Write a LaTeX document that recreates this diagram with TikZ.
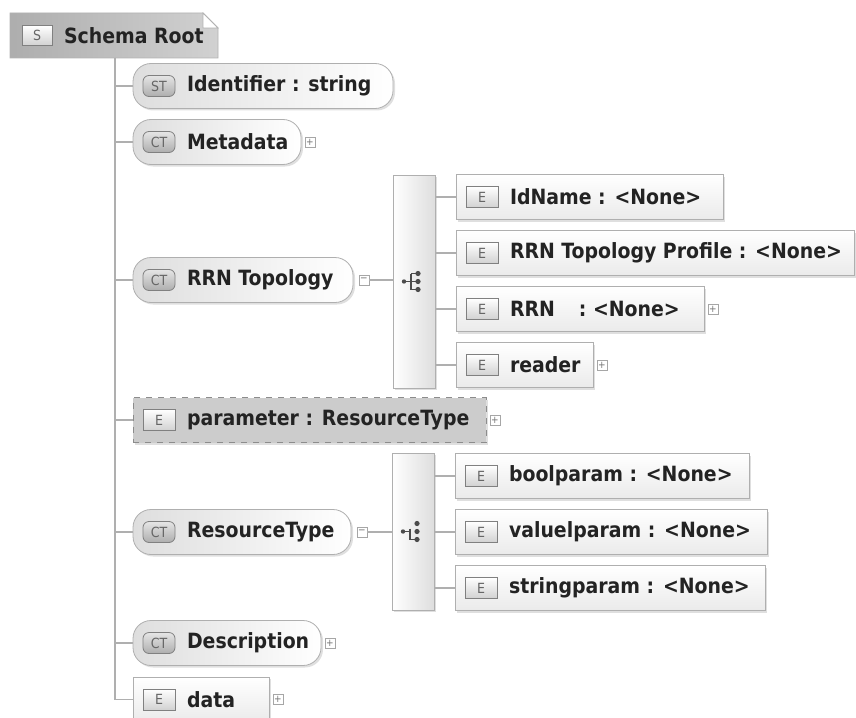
\documentclass[tikz,border=0pt]{standalone}
\usepackage{fontspec}
\setmainfont{DejaVu Sans Condensed}
\definecolor{edgegray}{RGB}{175,175,175}
\definecolor{txtgray}{RGB}{35,35,35}
\usetikzlibrary{positioning,shadows,calc}

\begin{document}
\begin{tikzpicture}[x=0.5pt,y=-0.5pt,
    every node/.style={inner sep=0pt,outer sep=0pt},
    myshadow/.style={drop shadow={shadow xshift=1pt,shadow yshift=-1pt,opacity=.25}},
    ctbox/.style={draw=edgegray,minimum height=22.5pt,anchor=west,rounded corners=9pt,
        left color=black!13,right color=white,myshadow},
    elbox/.style={draw=edgegray,minimum height=22.5pt,anchor=west,
        top color=white,bottom color=black!8,myshadow},
    parbox/.style={draw=black!45,dashed,minimum height=22.5pt,anchor=west,
        fill=black!20,myshadow},
    seqbox/.style={draw=edgegray,minimum width=21pt,left color=white,right color=black!13,myshadow},
    ebadge/.style={draw=black!50,minimum width=16pt,minimum height=10.5pt,
        font=\fontsize{7}{7}\selectfont,text=black!60,top color=white,bottom color=black!18},
    tbadge/.style={ebadge,rounded corners=3pt,top color=black!10,bottom color=black!32},
    lbl/.style={font=\bfseries\fontsize{10.5}{12}\selectfont,text=txtgray},
    pm/.style={draw=black!35,minimum size=5pt,font=\fontsize{5}{5}\selectfont,text=black!55},
    conn/.style={draw=edgegray,line width=0.6pt}
    ]
    \useasboundingbox (0,0) rectangle (856,717);

    % the root
    \node[minimum width=104pt,minimum height=22.5pt,anchor=west] (root) at (10,35.5) {};
    \shade[left color=black!32,right color=black!18,draw=black!30]
        (root.north west) -- ($(root.north east)+(-15,0)$) -- ($(root.north east)+(0,15)$)
        -- (root.south east) -- (root.south west) -- cycle;
    \draw[black!30,fill=white] ($(root.north east)+(-15,0)$) -- ($(root.north east)+(0,15)$)
        -- ($(root.north east)+(-15,15)$) -- cycle;
    \node[ebadge,minimum width=15pt,minimum height=10pt,right=6pt of root.west] (rootB) {S};
    \node[lbl,right=6pt of rootB] (rootL) {Schema Root};

    % the children of the root
    \node[ctbox,minimum width=130pt] (ident) at (133,86) {};
    \node[tbadge,right=5pt of ident.west] (identB) {ST};
    \node[lbl,right=6pt of identB] (identL) {Identifier : string};

    \node[ctbox,minimum width=84pt] (meta) at (133,142) {};
    \node[tbadge,right=5pt of meta.west] (metaB) {CT};
    \node[lbl,right=6pt of metaB] (metaL) {Metadata};
    \node[pm,right=2pt of meta] (metaP) {+};

    \node[ctbox,minimum width=110pt] (rrn) at (133,280) {};
    \node[tbadge,right=5pt of rrn.west] (rrnB) {CT};
    \node[lbl,right=6pt of rrnB] (rrnL) {RRN Topology};
    \node[pm,right=3pt of rrn] (rrnM) {−};

    \node[parbox,minimum width=176.5pt] (param) at (133,420) {};
    \node[ebadge,right=5pt of param.west] (paramB) {E};
    \node[lbl,right=6pt of paramB] (paramL) {parameter : ResourceType};
    \node[pm,right=2pt of param] (paramP) {+};

    \node[ctbox,minimum width=109pt] (rtype) at (133,532) {};
    \node[tbadge,right=5pt of rtype.west] (rtypeB) {CT};
    \node[lbl,right=6pt of rtypeB] (rtypeL) {ResourceType};
    \node[pm,right=3pt of rtype] (rtypeM) {−};

    \node[ctbox,minimum width=94pt] (descr) at (133,643) {};
    \node[tbadge,right=5pt of descr.west] (descrB) {CT};
    \node[lbl,right=6pt of descrB] (descrL) {Description};
    \node[pm,right=2pt of descr] (descrP) {+};

    \node[elbox,minimum width=68pt] (data) at (133,699.5) {};
    \node[ebadge,right=5pt of data.west] (dataB) {E};
    \node[lbl,right=6pt of dataB] (dataL) {data};
    \node[pm,right=2pt of data] (dataP) {+};

    % the sequence of RRN Topology
    \node[seqbox,minimum height=106.5pt] (seqA) at (414,281.5) {};
    \node[elbox,minimum width=133.5pt] (idname) at (456,197) {};
    \node[ebadge,right=5pt of idname.west] (idnameB) {E};
    \node[lbl,right=6pt of idnameB] (idnameL) {IdName : <None>};

    \node[elbox,minimum width=199pt] (profile) at (456,253) {};
    \node[ebadge,right=5pt of profile.west] (profileB) {E};
    \node[lbl,right=6pt of profileB] (profileL) {RRN Topology Profile : <None>};

    \node[elbox,minimum width=124pt] (rrnel) at (456,309) {};
    \node[ebadge,right=5pt of rrnel.west] (rrnelB) {E};
    \node[lbl,right=6pt of rrnelB] (rrnelL) {RRN\hspace{12pt}: <None>};
    \node[pm,right=2pt of rrnel] (rrnelP) {+};

    \node[elbox,minimum width=68.5pt] (reader) at (456,365) {};
    \node[ebadge,right=5pt of reader.west] (readerB) {E};
    \node[lbl,right=6pt of readerB] (readerL) {reader};
    \node[pm,right=2pt of reader] (readerP) {+};

    % the choice of ResourceType
    \node[seqbox,minimum height=78.5pt] (seqB) at (413,531.5) {};
    \node[elbox,minimum width=147pt] (bool) at (455,476) {};
    \node[ebadge,right=5pt of bool.west] (boolB) {E};
    \node[lbl,right=6pt of boolB] (boolL) {boolparam : <None>};

    \node[elbox,minimum width=156pt] (valuel) at (455,532) {};
    \node[ebadge,right=5pt of valuel.west] (valuelB) {E};
    \node[lbl,right=6pt of valuelB] (valuelL) {valuelparam : <None>};

    \node[elbox,minimum width=155pt] (strp) at (455,588) {};
    \node[ebadge,right=5pt of strp.west] (strpB) {E};
    \node[lbl,right=6pt of strpB] (strpL) {stringparam : <None>};

    % the icons
    \begin{scope}[shift={(seqA.center)},black!70,line width=0.6pt]
    \draw (-10,0) -- (-3,0) (-3,-8) -- (-3,8);
    \draw (-3,-8) -- (4,-8) (-3,0) -- (4,0) (-3,8) -- (4,8);
    \fill (-10,0) circle (1.1pt) (4,-8) circle (1.3pt) (4,0) circle (1.3pt) (4,8) circle (1.3pt);
    \end{scope}
    \begin{scope}[shift={(seqB.center)},black!70,line width=0.6pt]
    \draw (-10,0) -- (-3,0) (-3,-3) -- (-3,8) -- (4,8);
    \fill (-10,0) circle (1.1pt) (4,-8) circle (1.3pt) (4,0) circle (1.3pt) (4,8) circle (1.3pt);
    \end{scope}

    % the edges
    \coordinate (trunk) at (115,58);
    \draw[conn] (trunk) -- (data.west -| trunk) -- (data.west);
    \draw[conn] (ident.west -| trunk) -- (ident.west);
    \draw[conn] (meta.west -| trunk) -- (meta.west);
    \draw[conn] (rrn.west -| trunk) -- (rrn.west);
    \draw[conn] (param.west -| trunk) -- (param.west);
    \draw[conn] (rtype.west -| trunk) -- (rtype.west);
    \draw[conn] (descr.west -| trunk) -- (descr.west);
    \draw[conn] (rrnM) -- (seqA.west |- rrnM);
    \draw[conn] (rtypeM) -- (seqB.west |- rtypeM);
    \draw[conn] (seqA.east |- idname.west) -- (idname.west);
    \draw[conn] (seqA.east |- profile.west) -- (profile.west);
    \draw[conn] (seqA.east |- rrnel.west) -- (rrnel.west);
    \draw[conn] (seqA.east |- reader.west) -- (reader.west);
    \draw[conn] (seqB.east |- bool.west) -- (bool.west);
    \draw[conn] (seqB.east |- valuel.west) -- (valuel.west);
    \draw[conn] (seqB.east |- strp.west) -- (strp.west);

\end{tikzpicture}
\end{document}
